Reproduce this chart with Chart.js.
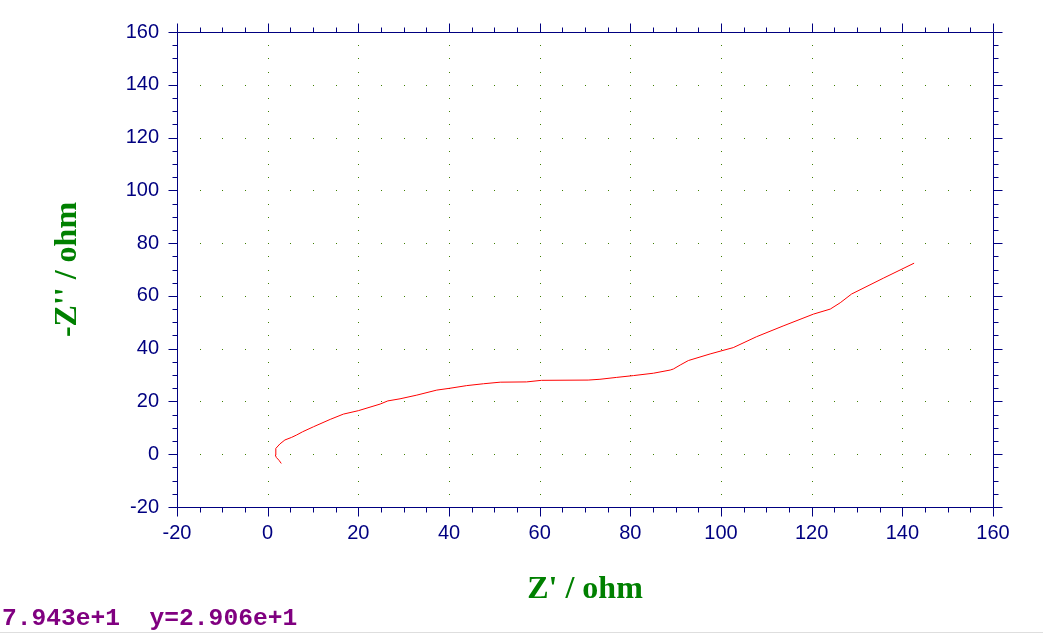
<!DOCTYPE html>
<html>
<head>
<meta charset="utf-8">
<script src="https://cdn.jsdelivr.net/npm/chart.js@4/dist/chart.umd.min.js"></script>
<style>
  html, body { margin: 0; padding: 0; background: #fff; overflow: hidden; }
  #wrap { width: 1043px; height: 636px; }
</style>
</head>
<body>
<div id="wrap"><canvas id="nyquistChart" width="1043" height="636"></canvas></div>
<script>
// Nyquist data: Z' (ohm) and -Z'' (ohm)
const zReal = [3.0, 2.5, 1.9, 1.7, 1.8, 2.7, 3.8, 5.3, 6.4, 7.7, 10.1, 13.8, 16.7, 20.0, 24.8, 26.5,
    29.2, 32.9, 37.3, 40.2, 43.9, 47.6, 51.3, 57.1, 60.4, 70.7, 73.3, 76.9, 80.7, 85.1, 88.8, 89.5,
    91.0, 92.8, 97.6, 102.7, 107.8, 113.7, 120.4, 124.1, 126.3, 128.8, 135.8, 142.6];
const zImag = [-3.5, -2.3, -1.2, -0.3, 2.2, 3.9, 5.4, 6.4, 7.3, 8.5, 10.4, 13.2, 15.2, 16.5, 19.0, 20.2,
    21.0, 22.4, 24.3, 25.0, 26.0, 26.7, 27.3, 27.4, 28.0, 28.1, 28.4, 29.1, 29.8, 30.7, 31.9, 32.3,
    33.8, 35.5, 38.0, 40.4, 44.5, 48.6, 53.1, 55.0, 57.4, 60.7, 66.7, 72.4];

const axisMin = -20;
const axisMax = 160;
const majorStep = 20;
const minorStep = 5;
const cursorText = '7.943e+1  y=2.906e+1';

const navy = '#000080';
const titleGreen = '#008000';

document.addEventListener('DOMContentLoaded', () => {
    // frame, tick marks on all four sides and dotted grid
    const framePlugin = {
        id: 'frame',
        beforeDatasetsDraw(chart) {
            const { ctx, chartArea: a, scales: { x, y } } = chart;
            ctx.save();

            // dotted grid: dots at minor positions along the major lines
            ctx.fillStyle = '#3f7f00';
            for (let gv = axisMin + majorStep; gv < axisMax; gv += majorStep) {
                const gx = Math.round(x.getPixelForValue(gv));
                const gy = Math.round(y.getPixelForValue(gv));
                for (let d = axisMin + minorStep; d < axisMax; d += minorStep) {
                    ctx.fillRect(gx, Math.round(y.getPixelForValue(d)), 1, 1);
                    ctx.fillRect(Math.round(x.getPixelForValue(d)), gy, 1, 1);
                }
            }

            ctx.strokeStyle = navy;
            ctx.lineWidth = 1;
            ctx.beginPath();
            const L = Math.round(a.left) + 0.5, R = Math.round(a.right) + 0.5;
            const T = Math.round(a.top) + 0.5, B = Math.round(a.bottom) + 0.5;
            ctx.moveTo(L, T); ctx.lineTo(R, T); ctx.lineTo(R, B); ctx.lineTo(L, B); ctx.closePath();

            for (let v = axisMin; v <= axisMax; v += minorStep) {
                const len = v % majorStep === 0 ? 9 : 5;
                const px = Math.round(x.getPixelForValue(v)) + 0.5;
                const py = Math.round(y.getPixelForValue(v)) + 0.5;
                ctx.moveTo(px, B); ctx.lineTo(px, B + len);
                ctx.moveTo(px, T); ctx.lineTo(px, T - len);
                ctx.moveTo(L, py); ctx.lineTo(L - len, py);
                ctx.moveTo(R, py); ctx.lineTo(R + len, py);
            }
            ctx.stroke();
            ctx.restore();
        },
        afterDraw(chart) {
            const { ctx, width } = chart;
            ctx.save();
            ctx.fillStyle = '#800080';
            ctx.font = "bold 24.6px 'Liberation Mono', 'Courier New', monospace";
            ctx.textBaseline = 'alphabetic';
            ctx.fillText(cursorText, 2, 625);
            ctx.fillStyle = '#dedede';
            ctx.fillRect(0, 632, width, 1);
            ctx.restore();
        }
    };

    const ctx = document.getElementById('nyquistChart').getContext('2d');
    const nyquistChart = new Chart(ctx, {
        type: 'scatter',
        data: {
            datasets: [{
                data: zReal.map((v, i) => ({ x: v, y: zImag[i] })),
                showLine: true,
                borderColor: '#ff0000',
                borderWidth: 1,
                pointRadius: 0,
                tension: 0
            }]
        },
        options: {
            responsive: false,
            animation: false,
            devicePixelRatio: 1,
            layout: { padding: { top: 32, right: 50, left: 0, bottom: 0 } },
            plugins: { legend: { display: false }, tooltip: { enabled: false } },
            scales: {
                x: {
                    type: 'linear',
                    min: axisMin,
                    max: axisMax,
                    afterFit(scale) { scale.height = 129; },
                    grid: { display: false, drawTicks: false },
                    border: { display: false },
                    ticks: {
                        stepSize: majorStep,
                        autoSkip: false,
                        maxRotation: 0,
                        padding: 14,
                        color: navy,
                        font: { family: "'Liberation Sans', Arial, sans-serif", size: 20 }
                    },
                    title: {
                        display: true,
                        text: "Z' / ohm",
                        color: titleGreen,
                        padding: { top: 0, bottom: 27 },
                        font: { family: "'Liberation Serif', 'Times New Roman', serif", size: 32, weight: 'bold' }
                    }
                },
                y: {
                    type: 'linear',
                    min: axisMin,
                    max: axisMax,
                    afterFit(scale) { scale.width = 177; },
                    grid: { display: false, drawTicks: false },
                    border: { display: false },
                    ticks: {
                        stepSize: majorStep,
                        autoSkip: false,
                        padding: 18,
                        color: navy,
                        font: { family: "'Liberation Sans', Arial, sans-serif", size: 20 }
                    },
                    title: {
                        display: true,
                        text: "-Z'' / ohm",
                        color: titleGreen,
                        padding: { top: 49, bottom: 0 },
                        font: { family: "'Liberation Serif', 'Times New Roman', serif", size: 32, weight: 'bold' }
                    }
                }
            }
        },
        plugins: [framePlugin]
    });
});
</script>
</body>
</html>
